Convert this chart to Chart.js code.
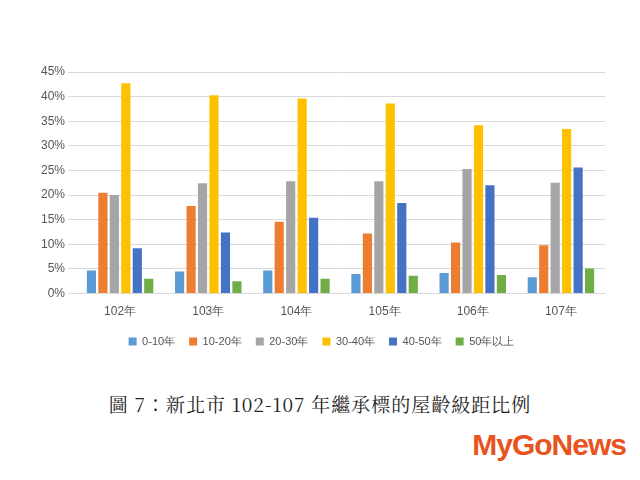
<!DOCTYPE html>
<html><head><meta charset="utf-8">
<script src="https://cdn.jsdelivr.net/npm/chart.js@4"></script>
<style>body{margin:0;background:#fff;width:640px;height:480px;overflow:hidden;position:relative;font-family:"Noto Sans CJK TC",sans-serif}
#w{position:absolute;left:0;top:0;width:640px;height:365px}
#t{position:absolute;left:0;width:640px;top:390px;text-align:center;font-family:"Noto Serif CJK TC","Noto Sans CJK TC",serif;font-size:19px;color:#222;letter-spacing:1px}
#logo{position:absolute;right:14px;top:428px;font-family:"Liberation Sans",sans-serif;font-weight:bold;font-size:30px;color:#e8531e;letter-spacing:-1px}
</style></head><body>
<div id="w"><canvas id="c"></canvas></div>
<div id="t">圖 7：新北市 102-107 年繼承標的屋齡級距比例</div>
<div id="logo">MyGoNews</div>
<script>
const categories=["102年","103年","104年","105年","106年","107年"];
const seriesNames=["0-10年","10-20年","20-30年","30-40年","40-50年","50年以上"];
const s0=[4.7,4.5,4.7,4.0,4.2,3.3];
const s1=[20.5,17.8,14.6,12.2,10.4,9.8];
const s2=[20.0,22.4,22.8,22.8,25.3,22.5];
const s3=[42.7,40.3,39.6,38.6,34.2,33.4];
const s4=[9.2,12.4,15.4,18.4,22.0,25.6];
const s5=[3.0,2.5,3.0,3.6,3.8,5.1];
const colors=["#5b9bd5","#ed7d31","#a5a5a5","#ffc000","#4472c4","#70ad47"];
const all=[s0,s1,s2,s3,s4,s5];
new Chart(document.getElementById('c'),{type:'bar',
data:{labels:categories,datasets:all.map((d,i)=>({label:seriesNames[i],data:d,backgroundColor:colors[i],categoryPercentage:0.78,barPercentage:0.8}))},
options:{responsive:true,maintainAspectRatio:false,animation:false,
layout:{padding:{left:38,right:35,top:72,bottom:8}},
plugins:{legend:{position:'bottom',labels:{boxWidth:8,boxHeight:8,padding:14,color:'#555',font:{size:11}}},tooltip:{enabled:false}},
scales:{x:{grid:{display:false},border:{color:'#d9d9d9'},ticks:{color:'#555',font:{size:12}}},
y:{min:0,max:45,ticks:{stepSize:5,color:'#555',font:{size:12},callback:v=>v+'%'},grid:{color:'#d9d9d9'},border:{display:false}}}}});
</script></body></html>
